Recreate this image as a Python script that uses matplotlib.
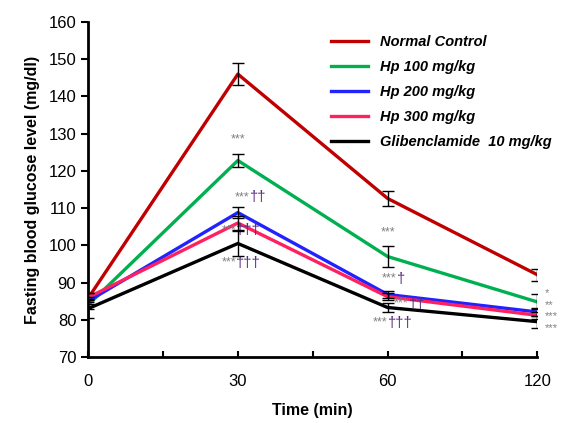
import matplotlib.pyplot as plt

plt.rcParams['font.family'] = ['Liberation Sans', 'DejaVu Sans']

# data
time_labels = ['0', '30', '60', '120']
groups = ['Normal Control', 'Hp 100 mg/kg', 'Hp 200 mg/kg', 'Hp 300 mg/kg', 'Glibenclamide  10 mg/kg']
normal = [85.8, 146.0, 112.6, 92.1]
hp100 = [84.0, 122.8, 97.0, 84.8]
hp200 = [85.0, 108.8, 86.8, 82.1]
hp300 = [86.0, 106.0, 86.2, 81.2]
glib = [83.0, 100.5, 83.3, 79.5]
err_normal = [1.5, 3.0, 2.0, 1.6]
err_hp100 = [1.2, 1.7, 2.8, 2.0]
err_hp200 = [1.2, 1.5, 1.0, 1.0]
err_hp300 = [1.2, 1.8, 1.0, 1.0]
err_glib = [2.5, 3.3, 1.2, 1.6]
colors = ['#c00000', '#00b050', '#2222ff', '#ff2060', '#000000']

# significance marks: (x position, y, stars, daggers)
marks = [
    (1, 128.5, '***', ''), (1, 113.0, '***', '††'), (1, 104.0, '***', '†††'), (1, 95.3, '***', '†††'),
    (2, 103.4, '***', ''), (2, 91.0, '***', '†'), (2, 84.3, '***', '††'), (2, 79.2, '***', '†††'),
    (3, 87.2, '*', ''), (3, 84.0, '**', ''), (3, 80.9, '***', ''), (3, 77.7, '***', ''),
]
mark_dx = [0, 0.08, -0.01, -0.01, 0, 0.06, 0.14, 0.0, 0.05, 0.05, 0.05, 0.05]

fig = plt.figure(figsize=(5.65, 4.23), dpi=100)
ax = fig.add_axes([0.156, 0.156, 0.795, 0.792])

x = list(range(len(time_labels)))
series = [normal, hp100, hp200, hp300, glib]
errs = [err_normal, err_hp100, err_hp200, err_hp300, err_glib]
for vals, e, c, name in zip(series, errs, colors, groups):
    ax.plot(x, vals, color=c, lw=2.4, label=name, zorder=3)
for vals, e in zip(series, errs):
    ax.errorbar(x, vals, yerr=e, fmt='none', ecolor='black', elinewidth=1, capsize=4, capthick=1, zorder=4)

for (xi, yi, st, dg), dx in zip(marks, mark_dx):
    xx = xi + dx
    if dg:
        ax.text(xx, yi, st, ha='right', va='center', fontsize=9, color='#808080')
        ax.text(xx, yi, dg, ha='left', va='center', fontsize=10.5, color='#5a2a80')
    elif xi == 3:
        ax.text(xx, yi, st, ha='left', va='center', fontsize=8, color='#808080')
    else:
        ax.text(xx, yi, st, ha='center', va='center', fontsize=9, color='#808080')

ax.set_xlim(0, 3)
ax.set_ylim(70, 160)
ax.set_xticks(x)
ax.set_xticklabels(time_labels, fontsize=12)
ax.set_xticks([0.5, 1.5, 2.5], minor=True)
ax.tick_params(axis='x', which='both', direction='in', length=4, width=1.5, pad=12)
ax.tick_params(axis='y', direction='out', length=5, width=1.5, labelsize=12)
ax.set_yticks(range(70, 161, 10))
ax.spines['top'].set_visible(False)
ax.spines['right'].set_visible(False)
ax.spines['left'].set_linewidth(2)
ax.spines['bottom'].set_linewidth(2)
ax.spines['bottom'].set_zorder(5)
ax.set_xlabel('Time (min)', fontsize=11.5, fontweight='bold', labelpad=10)
ax.set_ylabel('Fasting blood glucose level (mg/dl)', fontsize=11.5, fontweight='bold', labelpad=6)

leg = ax.legend(loc='upper right', bbox_to_anchor=(1.06, 1.0), frameon=False, handlelength=2.5,
                labelspacing=0.75, prop={'weight': 'bold', 'style': 'italic', 'size': 10.5})

plt.savefig('out.png', dpi=100)
